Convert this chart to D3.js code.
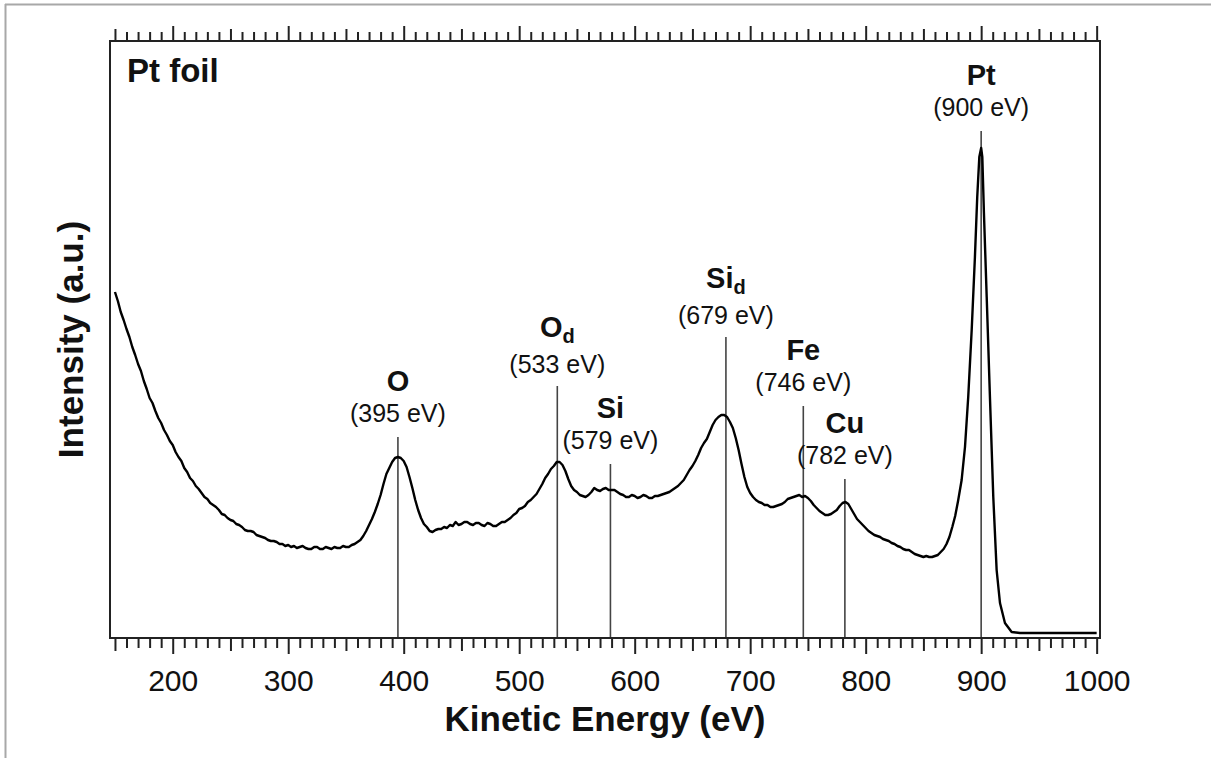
<!DOCTYPE html>
<html>
<head>
<meta charset="utf-8">
<script src="https://cdn.jsdelivr.net/npm/d3@7"></script>
<style>
  html, body { margin: 0; padding: 0; background: #fff; }
  svg { display: block; }
  text { font-family: "Liberation Sans", Arial, Helvetica, sans-serif; fill: #111; }
</style>
</head>
<body>
<svg id="chart" width="1211" height="758"></svg>
<script>
// Auger spectrum of a Pt foil: kinetic energy (eV) vs intensity (a.u.)
const energy = [
  150, 152.5, 155, 157.5, 160, 162.5, 165, 167.5, 170, 172.5,
  175, 177.5, 180, 182.5, 185, 187.5, 190, 192.5, 195, 197.5,
  200, 202.5, 205, 207.5, 210, 212.5, 215, 217.5, 220, 222.5,
  225, 227.5, 230, 232.5, 235, 237.5, 240, 242.5, 245, 247.5,
  250, 252.5, 255, 257.5, 260, 262.5, 265, 267.5, 270, 272.5,
  275, 277.5, 280, 282.5, 285, 287.5, 290, 292.5, 295, 297.5,
  300, 302.5, 305, 307.5, 310, 312.5, 315, 317.5, 320, 322.5,
  325, 327.5, 330, 332.5, 335, 337.5, 340, 342.5, 345, 347.5,
  350, 352.5, 355, 357.5, 360, 362.5, 365, 367.5, 370, 372.5,
  375, 377.5, 380, 382.5, 385, 387.5, 390, 392.5, 395, 397.5,
  400, 402.5, 405, 407.5, 410, 412.5, 415, 417.5, 420, 422.5,
  425, 427.5, 430, 432.5, 435, 437.5, 440, 442.5, 445, 447.5,
  450, 452.5, 455, 457.5, 460, 462.5, 465, 467.5, 470, 472.5,
  475, 477.5, 480, 482.5, 485, 487.5, 490, 492.5, 495, 497.5,
  500, 502.5, 505, 507.5, 510, 512.5, 515, 517.5, 520, 522.5,
  525, 527.5, 530, 532.5, 535, 537.5, 540, 542.5, 545, 547.5,
  550, 552.5, 555, 557.5, 560, 562.5, 565, 567.5, 570, 572.5,
  575, 577.5, 580, 582.5, 585, 587.5, 590, 592.5, 595, 597.5,
  600, 602.5, 605, 607.5, 610, 612.5, 615, 617.5, 620, 622.5,
  625, 627.5, 630, 632.5, 635, 637.5, 640, 642.5, 645, 647.5,
  650, 652.5, 655, 657.5, 660, 662.5, 665, 667.5, 670, 672.5,
  675, 677.5, 680, 682.5, 685, 687.5, 690, 692.5, 695, 697.5,
  700, 702.5, 705, 707.5, 710, 712.5, 715, 717.5, 720, 722.5,
  725, 727.5, 730, 732.5, 735, 737.5, 740, 742.5, 745, 747.5,
  750, 752.5, 755, 757.5, 760, 762.5, 765, 767.5, 770, 772.5,
  775, 777.5, 780, 782.5, 785, 787.5, 790, 792.5, 795, 797.5,
  800, 802.5, 805, 807.5, 810, 812.5, 815, 817.5, 820, 822.5,
  825, 827.5, 830, 832.5, 835, 837.5, 840, 842.5, 845, 847.5,
  850, 852.5, 855, 857.5, 860, 862.5, 865, 867.5, 870, 872.5,
  875, 877.5, 880, 883.1, 886, 888.8, 891.8, 894.6, 896.6, 898.4,
  900, 901, 902.4, 904.8, 907.6, 910.5, 913.4, 916.3, 920.6, 926.4,
  933.6, 950, 975, 1000
];
const intensity = [
  346, 337, 326, 318, 309, 301, 291, 283, 274, 267,
  257, 249, 240, 235, 227, 220, 215, 208, 203, 197,
  193, 186, 181, 177, 170, 166, 160, 157, 152, 149,
  145, 141, 139, 135, 133, 131, 128, 124, 123, 120,
  118, 117, 114, 113, 111, 108, 107, 107, 106, 103,
  102, 101, 100, 98, 97, 97, 96, 94, 94, 92,
  93, 91, 92, 90, 91, 92, 90, 89, 89, 91,
  91, 89, 89, 91, 90, 89, 91, 90, 90, 92,
  91, 91, 93, 94, 96, 98, 102, 107, 113, 119,
  126, 134, 143, 154, 164, 170, 176, 180, 181, 180,
  177, 171, 161, 150, 138, 128, 120, 114, 111, 107,
  106, 108, 109, 109, 111, 110, 113, 112, 116, 113,
  114, 116, 116, 114, 113, 115, 115, 113, 112, 115,
  114, 112, 112, 114, 116, 116, 118, 120, 123, 125,
  129, 130, 132, 136, 138, 141, 144, 149, 154, 160,
  164, 169, 172, 176, 176, 173, 167, 159, 152, 148,
  146, 143, 142, 141, 143, 146, 150, 148, 147, 149,
  150, 148, 148, 148, 146, 144, 143, 141, 141, 143,
  142, 140, 141, 143, 142, 140, 140, 142, 142, 143,
  144, 145, 146, 148, 150, 152, 155, 158, 163, 168,
  172, 177, 183, 190, 195, 199, 206, 213, 218, 221,
  223, 223, 221, 216, 210, 200, 188, 174, 161, 151,
  145, 141, 138, 136, 135, 133, 133, 131, 131, 132,
  133, 134, 136, 139, 140, 141, 142, 143, 141, 142,
  140, 137, 133, 130, 127, 125, 123, 123, 124, 126,
  128, 132, 135, 136, 134, 129, 124, 119, 116, 113,
  110, 107, 105, 103, 102, 101, 99, 98, 97, 95,
  94, 92, 91, 89, 88, 88, 86, 84, 83, 82,
  81, 82, 81, 81, 82, 83, 86, 89, 94, 101,
  111, 122, 137, 158, 191, 241, 308, 381, 441, 481,
  490, 481, 425, 341, 241, 141, 68, 35, 15, 6,
  5, 5, 5, 5
];

// Peak assignments
const peakNames    = ["O", "O", "Si", "Si", "Fe", "Cu", "Pt"];
const peakSubs     = ["", "d", "", "d", "", "", ""];
const peakEnergies = [395, 533, 579, 679, 746, 782, 900];
const peakTops     = [201, 252, 174, 301, 232, 159, 507];   // marker top, a.u.

// Axis ticks
const tickValues  = d3.range(150, 1001, 10);
const tickLabels  = [200, 300, 400, 500, 600, 700, 800, 900, 1000];

const svg = d3.select("#chart");
const W = 1211, H = 758;
const frame = { left: 110, right: 1100, top: 41, bottom: 638 };

const x = d3.scaleLinear().domain([145.7, 1002.9]).range([frame.left, frame.right]);
const y = d3.scaleLinear().domain([0, 597]).range([frame.bottom, frame.top]);

// outer panel edge
svg.append("line").attr("x1", 5).attr("x2", W).attr("y1", 4.5).attr("y2", 4.5)
  .attr("stroke", "#a8a8a8").attr("stroke-width", 2);
svg.append("line").attr("x1", 5.5).attr("x2", 5.5).attr("y1", 4).attr("y2", H)
  .attr("stroke", "#a8a8a8").attr("stroke-width", 2);

const tickLen = (d, big, mid, small) => d % 100 === 0 ? big : (d % 50 === 0 ? mid : small);

// bottom axis
const gB = svg.append("g").attr("transform", `translate(0,${frame.bottom})`)
  .call(d3.axisBottom(x).tickValues(tickValues).tickSizeOuter(0)
    .tickFormat(d => tickLabels.includes(d) ? d : ""));
gB.select(".domain").remove();
gB.selectAll(".tick line")
  .attr("y2", d => tickLen(d, 16, 13, 10))
  .attr("stroke", "#222").attr("stroke-width", 2);
gB.selectAll(".tick text")
  .attr("y", 53).attr("dy", 0)
  .style("font-size", "30px").style("font-family", '"Liberation Sans", Arial, sans-serif')
  .attr("fill", "#111");

// top axis
const gT = svg.append("g").attr("transform", `translate(0,${frame.top})`)
  .call(d3.axisTop(x).tickValues(tickValues).tickSizeOuter(0).tickFormat(""));
gT.select(".domain").remove();
gT.selectAll(".tick line")
  .attr("y2", d => -tickLen(d, 15, 12, 9))
  .attr("stroke", "#222").attr("stroke-width", 2);

// peak marker lines
svg.append("g").selectAll("line").data(peakEnergies).join("line")
  .attr("x1", d => x(d)).attr("x2", d => x(d))
  .attr("y1", (d, i) => y(peakTops[i])).attr("y2", frame.bottom)
  .attr("stroke", "#444").attr("stroke-width", 1.6);

// spectrum
const pts = energy.map((e, i) => [e, intensity[i]]);
svg.append("path").datum(pts)
  .attr("fill", "none").attr("stroke", "#000").attr("stroke-width", 2.4)
  .attr("stroke-linejoin", "round")
  .attr("d", d3.line().x(d => x(d[0])).y(d => y(d[1])));

// plot frame
svg.append("rect")
  .attr("x", frame.left).attr("y", frame.top)
  .attr("width", frame.right - frame.left).attr("height", frame.bottom - frame.top)
  .attr("fill", "none").attr("stroke", "#222").attr("stroke-width", 2);

// peak labels: energy in parentheses above the marker, element name above that
const hasSub = i => peakSubs[i] !== "";
const valueY = (d, i) => y(peakTops[i]) - (hasSub(i) ? 13 : 15);
const nameY  = (d, i) => valueY(d, i) - (hasSub(i) ? 36 : 31);

const lab = svg.append("g").selectAll("g").data(peakEnergies).join("g");
lab.append("text")
  .attr("x", d => x(d)).attr("y", valueY)
  .attr("text-anchor", "middle").style("font-size", "25px")
  .text(d => `(${d} eV)`);
const nm = lab.append("text")
  .attr("x", d => x(d)).attr("y", nameY)
  .attr("text-anchor", "middle").style("font-size", "29px").style("font-weight", "bold");
nm.append("tspan").text((d, i) => peakNames[i]);
nm.append("tspan").attr("dy", 6).style("font-size", "20px").text((d, i) => peakSubs[i]);

// sample name
svg.append("text").attr("x", 127).attr("y", 82)
  .style("font-size", "33px").style("font-weight", "bold").text("Pt foil");

// axis titles
svg.append("text")
  .attr("x", (frame.left + frame.right) / 2).attr("y", 731)
  .attr("text-anchor", "middle").style("font-size", "35px").style("font-weight", "bold")
  .text("Kinetic Energy (eV)");
svg.append("text")
  .attr("transform", `translate(83,${(frame.top + frame.bottom) / 2}) rotate(-90)`)
  .attr("text-anchor", "middle").style("font-size", "35px").style("font-weight", "bold")
  .text("Intensity (a.u.)");
</script>
</body>
</html>
